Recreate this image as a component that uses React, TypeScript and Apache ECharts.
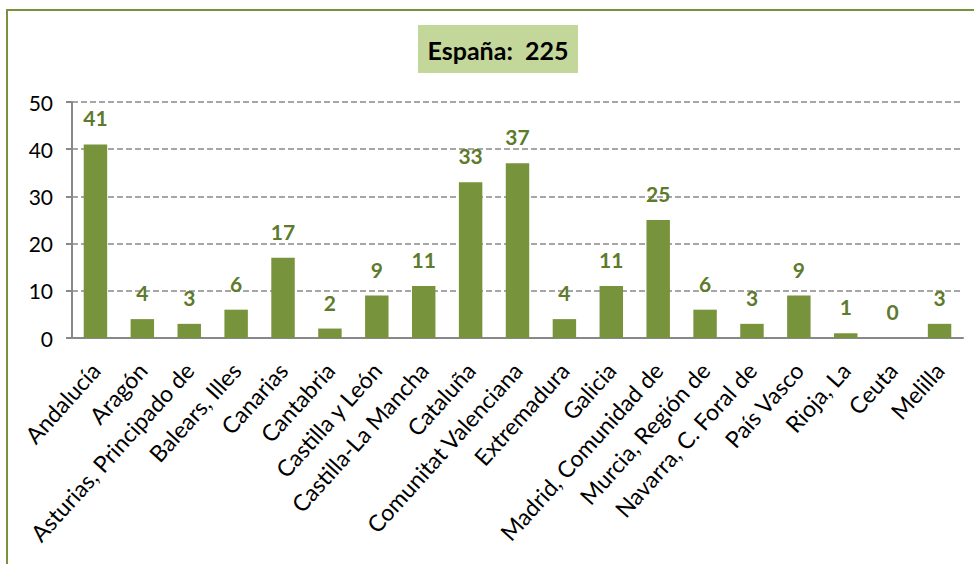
import React, { useEffect, useRef } from "react";
import * as echarts from "echarts";

const categories = [
  "Andalucía",
  "Aragón",
  "Asturias, Principado de",
  "Balears, Illes",
  "Canarias",
  "Cantabria",
  "Castilla y León",
  "Castilla-La Mancha",
  "Cataluña",
  "Comunitat Valenciana",
  "Extremadura",
  "Galicia",
  "Madrid, Comunidad de",
  "Murcia, Región de",
  "Navarra, C. Foral de",
  "País Vasco",
  "Rioja, La",
  "Ceuta",
  "Melilla",
];
const values = [41, 4, 3, 6, 17, 2, 9, 11, 33, 37, 4, 11, 25, 6, 3, 9, 1, 0, 3];
const titleText = "España:  225";
const yTicks = { min: 0, max: 50, interval: 10 };

const FONT = "Lato, 'Liberation Sans', sans-serif";

export default function App() {
  const ref = useRef<HTMLDivElement>(null);
  useEffect(() => {
    document.body.style.margin = "0";
    const chart = echarts.init(ref.current!, undefined, { renderer: "svg" });
    chart.setOption({
      animation: false,
      backgroundColor: "#ffffff",
      grid: { left: 72, right: 11, top: 102, bottom: 226, containLabel: false },
      graphic: [
        {
          type: "rect",
          shape: { x: 7, y: 10, width: 1000, height: 620 },
          style: { fill: "none", stroke: "#77933C", lineWidth: 2 },
          silent: true,
        },
        {
          type: "rect",
          shape: { x: 418, y: 25, width: 160, height: 48 },
          style: { fill: "#C4D79B" },
          silent: true,
        },
        {
          type: "text",
          x: 498,
          y: 50,
          style: {
            text: titleText,
            fill: "#000000",
            font: "bold 25px Lato, 'Liberation Sans', sans-serif",
            align: "center",
            verticalAlign: "middle",
          },
          silent: true,
        },
      ],
      xAxis: {
        type: "category",
        data: categories,
        boundaryGap: true,
        axisLine: { lineStyle: { color: "#888888", width: 2 } },
        axisTick: { alignWithLabel: false, length: 6, lineStyle: { color: "#888888", width: 2 } },
        axisLabel: {
          interval: 0,
          rotate: 48,
          color: "#000000",
          fontSize: 23,
          fontFamily: FONT,
          margin: 28,
        },
      },
      yAxis: {
        type: "value",
        min: yTicks.min,
        max: yTicks.max,
        interval: yTicks.interval,
        axisLine: { show: true, lineStyle: { color: "#888888", width: 2 } },
        axisTick: { show: true, length: 6, lineStyle: { color: "#888888", width: 2 } },
        axisLabel: {
          color: "#000000",
          fontSize: 21,
          fontFamily: FONT,
          margin: 19,
        },
        splitLine: { lineStyle: { color: "#A6A6A6", type: [6, 3], width: 2 } },
      },
      series: [
        {
          type: "bar",
          data: values,
          barWidth: "50%",
          itemStyle: { color: "#77933C" },
          label: {
            show: true,
            position: "top",
            distance: 16,
            color: "#5E7A2C",
            fontSize: 21,
            fontWeight: "bold",
            fontFamily: FONT,
          },
        },
      ],
    });
    return () => chart.dispose();
  }, []);
  return <div ref={ref} style={{ width: 974, height: 564 }} />;
}
